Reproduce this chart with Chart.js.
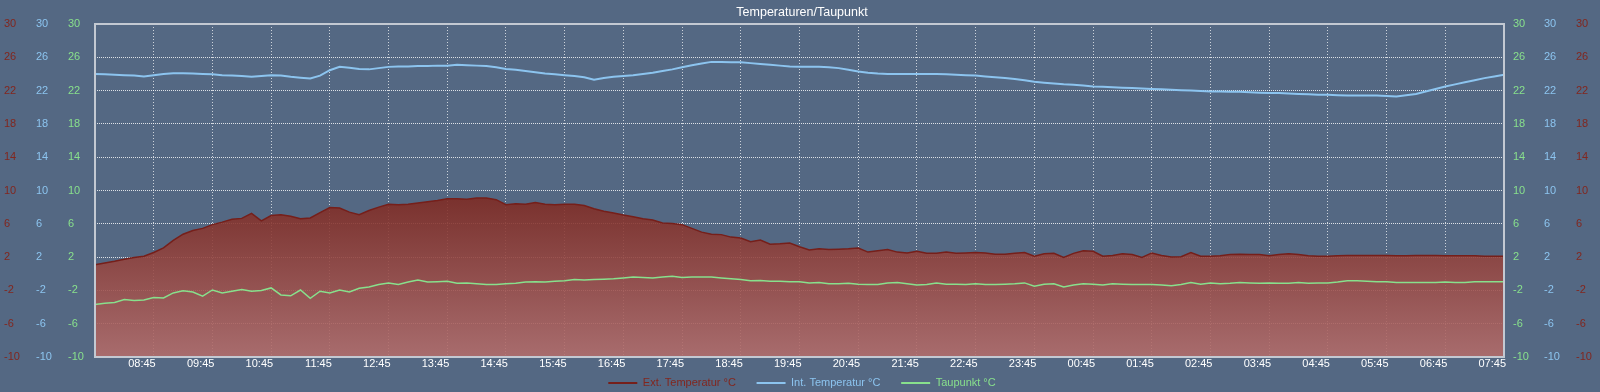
<!DOCTYPE html>
<html>
<head>
<meta charset="utf-8">
<title>Temperaturen/Taupunkt</title>
<script src="https://cdn.jsdelivr.net/npm/chart.js@4.4.1/dist/chart.umd.min.js"></script>
<style>
  html, body { margin: 0; padding: 0; background: #546883; overflow: hidden; }
  canvas { display: block; }
</style>
</head>
<body>
<canvas id="chart" width="1600" height="392"></canvas>
<script>
// 10-minute readings, 07:45 -> 07:45 next day
const START_TIME = '07:45';
const STEP_MINUTES = 10;

const EXT_TEMP = [
  1.08, 1.3, 1.5, 1.75, 1.95, 2.1, 2.55, 3.1, 4.0, 4.75, 5.2, 5.45, 5.9, 6.2, 6.55, 6.65, 7.25, 6.35, 7.0, 7.1,
  6.9, 6.6, 6.7, 7.35, 7.95, 7.9, 7.4, 7.1, 7.6, 8.0, 8.35, 8.3, 8.35, 8.5, 8.65, 8.8, 9.0,
  9.0, 8.95, 9.1, 9.1, 8.9, 8.3, 8.4, 8.35, 8.55, 8.35, 8.3, 8.35, 8.35, 8.2, 7.8, 7.5, 7.3, 7.05,
  6.85, 6.6, 6.45, 6.1, 6.05, 5.9, 5.45, 5.0, 4.75, 4.7, 4.4, 4.3, 3.85, 4.05, 3.55, 3.6, 3.7, 3.25,
  2.85, 3.0, 2.9, 2.95, 3.0, 3.1, 2.6, 2.75, 2.9, 2.6, 2.5, 2.7, 2.45, 2.45, 2.6, 2.45, 2.5, 2.55,
  2.5, 2.35, 2.35, 2.45, 2.55, 2.1, 2.4, 2.45, 1.95, 2.45, 2.75, 2.7, 2.1, 2.2, 2.4, 2.3, 1.95, 2.5,
  2.2, 2.0, 2.05, 2.55, 2.1, 2.1, 2.15, 2.3, 2.35, 2.3, 2.3, 2.15, 2.3, 2.4, 2.3, 2.15, 2.1, 2.1,
  2.15, 2.2, 2.2, 2.2, 2.2, 2.2, 2.15, 2.15, 2.2, 2.2, 2.2, 2.15, 2.15, 2.15, 2.15, 2.1, 2.1, 2.1
];

const INT_TEMP = [
  24.0, 23.95, 23.9, 23.85, 23.8, 23.7, 23.85, 24.0, 24.08, 24.08, 24.05, 24.0, 23.95, 23.85, 23.8, 23.75,
  23.65, 23.75, 23.85, 23.8, 23.65, 23.55, 23.45, 23.8, 24.45, 24.85, 24.75, 24.6, 24.55, 24.7, 24.85,
  24.9, 24.9, 24.95, 24.95, 25.0, 25.0,
  25.1, 25.05, 25.0, 24.95, 24.8, 24.6, 24.5, 24.35, 24.2, 24.05, 23.95, 23.85, 23.75, 23.6, 23.3, 23.5,
  23.65, 23.75, 23.85, 24.0, 24.15, 24.35, 24.55, 24.8, 25.05, 25.25, 25.45, 25.45, 25.4, 25.4, 25.3,
  25.2, 25.1, 25.0, 24.9, 24.85,
  24.85, 24.85, 24.8, 24.7, 24.5, 24.3, 24.15, 24.05, 23.98, 23.98, 24.0, 24.0, 24.0, 23.98, 23.95, 23.9,
  23.85, 23.8, 23.7, 23.6, 23.5, 23.4, 23.25, 23.05, 22.95, 22.85, 22.75, 22.7, 22.6, 22.5, 22.45, 22.4,
  22.35, 22.3, 22.25, 22.2,
  22.15, 22.1, 22.05, 22.0, 21.95, 21.9, 21.9, 21.85, 21.85, 21.8, 21.75, 21.7, 21.7, 21.65, 21.6, 21.55,
  21.5, 21.5, 21.45, 21.42, 21.42, 21.4, 21.4, 21.35, 21.3, 21.45, 21.6, 21.9, 22.2, 22.5, 22.75, 23.0,
  23.25, 23.5, 23.7, 23.9
];

const DEW_POINT = [
  -3.7, -3.55, -3.45, -3.1, -3.2, -3.15, -2.85, -2.9, -2.3, -2.05, -2.2, -2.7, -1.95, -2.3, -2.1, -1.9,
  -2.1, -2.0, -1.7, -2.55, -2.65, -1.95, -2.95, -2.1, -2.3, -1.95, -2.2, -1.75, -1.6, -1.3, -1.1, -1.3,
  -1.0, -0.75, -1.0, -0.95, -0.9,
  -1.15, -1.1, -1.2, -1.3, -1.3, -1.2, -1.15, -1.0, -0.95, -1.0, -0.9, -0.85, -0.7, -0.75, -0.7, -0.65,
  -0.6, -0.5, -0.4, -0.45, -0.5, -0.4, -0.3, -0.45, -0.4, -0.4, -0.4, -0.5, -0.6, -0.7, -0.85, -0.8,
  -0.9, -0.9, -0.95, -0.95,
  -1.1, -1.05, -1.2, -1.2, -1.15, -1.25, -1.3, -1.3, -1.1, -1.05, -1.2, -1.35, -1.3, -1.1, -1.25, -1.25,
  -1.3, -1.2, -1.3, -1.3, -1.25, -1.2, -1.1, -1.5, -1.25, -1.2, -1.6, -1.35, -1.2, -1.25, -1.35, -1.2,
  -1.25, -1.3, -1.3, -1.3,
  -1.35, -1.45, -1.3, -1.05, -1.25, -1.1, -1.2, -1.15, -1.05, -1.1, -1.15, -1.1, -1.15, -1.15, -1.05,
  -1.15, -1.1, -1.1, -1.0, -0.85, -0.85, -0.9, -0.95, -0.95, -1.05, -1.05, -1.05, -1.05, -1.05, -1.0,
  -1.05, -1.05, -0.95, -0.95, -0.95, -0.95
];

const SERIES_LABELS = ['Ext. Temperatur °C', 'Int. Temperatur °C', 'Taupunkt °C'];
const Y_MIN = -10;
const Y_MAX = 30;
const Y_STEP = 4;

const FONT = "'Liberation Sans', Arial, Helvetica, sans-serif";
const RED_LINE = '#761f1a';
const RED_TEXT = '#82261e';
const BLUE = '#8cc4ef';
const GREEN = '#88e08c';
const GRID_H = 'rgba(255, 255, 255, 0.8)';
const GRID_V = 'rgba(255, 255, 255, 0.7)';
const FRAME = '#c3c9d2';

const pad2 = (n) => String(n).padStart(2, '0');
const startMin = Number(START_TIME.slice(0, 2)) * 60 + Number(START_TIME.slice(3));
const times = EXT_TEMP.map((_, i) => {
  const m = (startMin + i * STEP_MINUTES) % 1440;
  return `${pad2(Math.floor(m / 60))}:${pad2(m % 60)}`;
});
const PER_HOUR = 60 / STEP_MINUTES;

Chart.defaults.font.family = FONT;

const framePlugin = {
  id: 'frame',
  afterDatasetsDraw(chart) {
    const { ctx, chartArea: a } = chart;
    ctx.save();
    ctx.strokeStyle = FRAME;
    ctx.lineWidth = 2;
    ctx.strokeRect(a.left, a.top, a.right - a.left, a.bottom - a.top);
    ctx.restore();
  },
};

const yAxis = (color, position, weight, width, withGrid) => ({
  type: 'linear',
  position,
  weight,
  min: Y_MIN,
  max: Y_MAX,
  ticks: {
    stepSize: Y_STEP,
    color,
    font: { size: 11 },
    padding: 9,
    crossAlign: position === 'left' ? 'far' : 'near',
  },
  grid: {
    display: withGrid,
    drawTicks: false,
    color: GRID_H,
    lineWidth: 1,
  },
  border: { display: false, dash: [1, 1] },
  afterFit: (scale) => {
    scale.width = width;
  },
});

const extFill = (context) => {
  const { chart } = context;
  const { chartArea, scales } = chart;
  if (!chartArea) return 'rgba(128, 46, 37, 0.88)';
  const top = scales.yExt.getPixelForValue(9.5);
  const g = chart.ctx.createLinearGradient(0, top, 0, chartArea.bottom);
  g.addColorStop(0, 'rgba(126, 40, 32, 0.88)');
  g.addColorStop(1, 'rgba(180, 108, 106, 0.88)');
  return g;
};

new Chart(document.getElementById('chart'), {
  type: 'line',
  data: {
    labels: times,
    datasets: [
      {
        label: SERIES_LABELS[0],
        data: EXT_TEMP,
        yAxisID: 'yExt',
        borderColor: RED_LINE,
        backgroundColor: extFill,
        borderWidth: 1.5,
        fill: 'start',
        order: 3,
      },
      {
        label: SERIES_LABELS[1],
        data: INT_TEMP,
        yAxisID: 'yInt',
        borderColor: BLUE,
        backgroundColor: BLUE,
        borderWidth: 2,
        fill: false,
        order: 2,
      },
      {
        label: SERIES_LABELS[2],
        data: DEW_POINT,
        yAxisID: 'yDew',
        borderColor: GREEN,
        backgroundColor: GREEN,
        borderWidth: 1.5,
        fill: false,
        order: 1,
      },
    ],
  },
  options: {
    responsive: false,
    animation: false,
    layout: { padding: { left: 4, right: 0, top: 0, bottom: 0 } },
    elements: { point: { radius: 0 }, line: { tension: 0 } },
    plugins: {
      title: {
        display: true,
        text: 'Temperaturen/Taupunkt',
        color: '#ffffff',
        font: { size: 12.5, weight: 'normal' },
        padding: { top: 5.5, bottom: 3.5 },
      },
      legend: {
        position: 'bottom',
        maxHeight: 23,
        labels: {
          boxWidth: 29,
          boxHeight: 2,
          padding: 8.5,
          font: { size: 11 },
          generateLabels: (chart) => {
            const textColors = [RED_TEXT, BLUE, GREEN];
            const last = chart.data.datasets.length - 1;
            return chart.data.datasets.map((ds, i) => ({
              text: ds.label + (i < last ? '    ' : ''),
              fillStyle: ds.borderColor,
              strokeStyle: ds.borderColor,
              lineWidth: 0,
              fontColor: textColors[i],
              hidden: !chart.isDatasetVisible(i),
              datasetIndex: i,
            }));
          },
        },
      },
      tooltip: { enabled: false },
    },
    scales: {
      x: {
        type: 'category',
        ticks: {
          autoSkip: false,
          maxRotation: 0,
          minRotation: 0,
          align: 'end',
          labelOffset: 2,
          padding: 0,
          color: '#ffffff',
          font: { size: 11 },
          callback: function (value, index) {
            return index > 0 && index % PER_HOUR === 0 ? this.getLabelForValue(value) : '';
          },
        },
        grid: {
          drawTicks: false,
          color: (c) => (c.index % PER_HOUR === 0 ? GRID_V : 'rgba(0,0,0,0)'),
          lineWidth: 1,
        },
        border: { display: false, dash: [1, 2] },
        afterFit: (scale) => {
          scale.height = 12;
        },
      },
      yExt: yAxis(RED_TEXT, 'left', 3, 32, false),
      yInt: yAxis(BLUE, 'left', 2, 32, false),
      yDew: yAxis(GREEN, 'left', 1, 27, true),
      yDewR: yAxis(GREEN, 'right', 1, 31, false),
      yIntR: yAxis(BLUE, 'right', 2, 32, false),
      yExtR: yAxis(RED_TEXT, 'right', 3, 33, false),
    },
  },
  plugins: [framePlugin],
});
</script>
</body>
</html>
